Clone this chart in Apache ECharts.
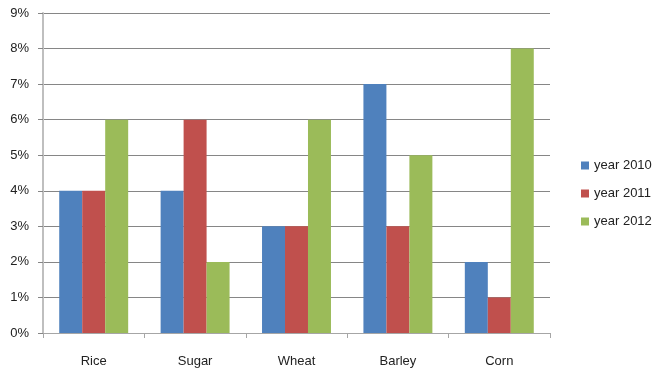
<!DOCTYPE html>
<html><head><meta charset="utf-8">
<script src="https://cdn.jsdelivr.net/npm/echarts@6/dist/echarts.min.js"></script>
<style>html,body{margin:0;padding:0;background:#fff}#c{width:664px;height:378px}</style>
</head><body><div id="c"></div>
<script>
const categories = ["Rice", "Sugar", "Wheat", "Barley", "Corn"];
const seriesNames = ["year 2010", "year 2011", "year 2012"];
const y2010 = [4, 4, 3, 7, 2];
const y2011 = [4, 6, 3, 3, 1];
const y2012 = [6, 2, 6, 5, 8];
const colors = ["#4f81bd", "#c0504d", "#9bbb59"];
const font = "Liberation Sans";
const chart = echarts.init(document.getElementById('c'));
chart.setOption({
  animation: false,
  textStyle: {fontFamily: font},
  grid: {left: 43, right: 114, top: 13, bottom: 45, containLabel: false},
  legend: {
    orient: 'vertical', left: 576, top: 154, itemWidth: 8, itemHeight: 8, itemGap: 15,
    icon: 'rect', textStyle: {fontSize: 13, color: '#222', fontFamily: font},
    data: seriesNames
  },
  xAxis: {
    type: 'category', data: categories,
    axisLine: {lineStyle: {color: '#a6a6a6', width: 1}},
    axisTick: {show: true, length: 5, lineStyle: {color: '#a6a6a6'}},
    axisLabel: {fontSize: 13, color: '#222', margin: 22}
  },
  yAxis: {
    type: 'value', min: 0, max: 9, interval: 1,
    axisLine: {show: true, lineStyle: {color: '#bfbfbf', width: 2}},
    axisTick: {show: true, length: 5, lineStyle: {color: '#868686'}},
    splitLine: {lineStyle: {color: '#868686', width: 1}},
    axisLabel: {fontSize: 13, color: '#222', margin: 14, formatter: v => v + '%'}
  },
  series: [y2010, y2011, y2012].map((d, i) => ({
    name: seriesNames[i], type: 'bar', data: d, barGap: '0%', barCategoryGap: '32%',
    itemStyle: {color: colors[i]}
  }))
});
</script></body></html>
